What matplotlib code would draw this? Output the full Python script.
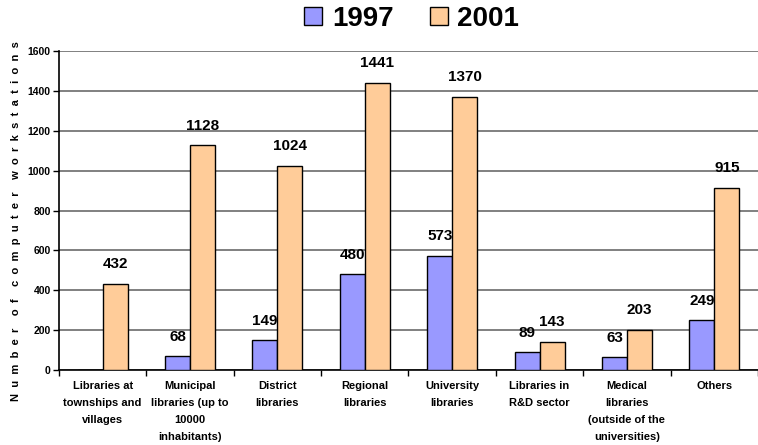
import numpy as np
from matplotlib import pyplot as plt

categories = [
    "Libraries at\ntownships and\nvillages",
    "Municipal\nlibraries (up to\n10000\ninhabitants)",
    "District\nlibraries",
    "Regional\nlibraries",
    "University\nlibraries",
    "Libraries in\nR&D sector",
    "Medical\nlibraries\n(outside of the\nuniversities)",
    "Others",
]
values_1997 = [0, 68, 149, 480, 573, 89, 63, 249]
values_2001 = [432, 1128, 1024, 1441, 1370, 143, 203, 915]
labels_1997 = ["", "68", "149", "480", "573", "89", "63", "249"]
labels_2001 = ["432", "1128", "1024", "1441", "1370", "143", "203", "915"]
series_names = ["1997", "2001"]

plt.rcParams['font.family'] = ['Liberation Sans', 'DejaVu Sans']

fig = plt.figure(figsize=(7.58, 4.45), dpi=100)
ax = fig.add_axes([0.0778, 0.1685, 0.9222, 0.7169])

x = np.arange(len(categories))
w = 0.2857
b1 = ax.bar(x - w / 2, values_1997, w, color='#9999FF', edgecolor='black', linewidth=1, zorder=3)
b2 = ax.bar(x + w / 2, values_2001, w, color='#FFCC99', edgecolor='black', linewidth=1, zorder=3)

for bars, labs in ((b1, labels_1997), (b2, labels_2001)):
    for rect, lab in zip(bars, labs):
        if not lab:
            continue
        ax.annotate(lab, (rect.get_x() + rect.get_width() / 2, rect.get_height()),
                    xytext=(0, 9), textcoords='offset points', ha='center', va='bottom',
                    fontsize=11, fontweight='bold', zorder=4)

ax.set_ylim(0, 1600)
ax.set_yticks(range(0, 1601, 200))
ax.set_xlim(-0.5, -0.5 + (758 - 59) / 89)
ax.yaxis.grid(True, color='#808080', linewidth=1.4, zorder=0)

ax.set_xticks(np.arange(len(categories) + 1) - 0.5)
ax.set_xticklabels([])
ax.set_xticks(x, minor=True)
ax.set_xticklabels(categories, minor=True, fontsize=8, fontweight='bold', linespacing=1.85, va='top')
ax.tick_params(axis='x', which='minor', length=0, pad=8)
ax.tick_params(axis='x', which='major', length=4, direction='out', width=1)
ax.tick_params(axis='y', length=4, width=1, labelsize=7.5, pad=2)
for t in ax.get_yticklabels():
    t.set_fontweight('bold')

for s in ('top', 'right'):
    ax.spines[s].set_visible(False)
ax.spines['left'].set_linewidth(1.2)
ax.spines['bottom'].set_linewidth(1.2)

ylab = "    ".join("  ".join(word) for word in "Number of computer workstations".split())
fig.text(0.021, 0.503, ylab, rotation=90, ha='center', va='center', fontsize=8, fontweight='bold')

leg = fig.legend([b1, b2], series_names, loc='center', bbox_to_anchor=(0.543, 0.958), ncol=2,
                 frameon=False, prop={'size': 20, 'weight': 'bold'}, handlelength=0.65,
                 handleheight=0.65, handletextpad=0.35, columnspacing=1.3)

plt.savefig("out.png", dpi=100)
plt.close()
